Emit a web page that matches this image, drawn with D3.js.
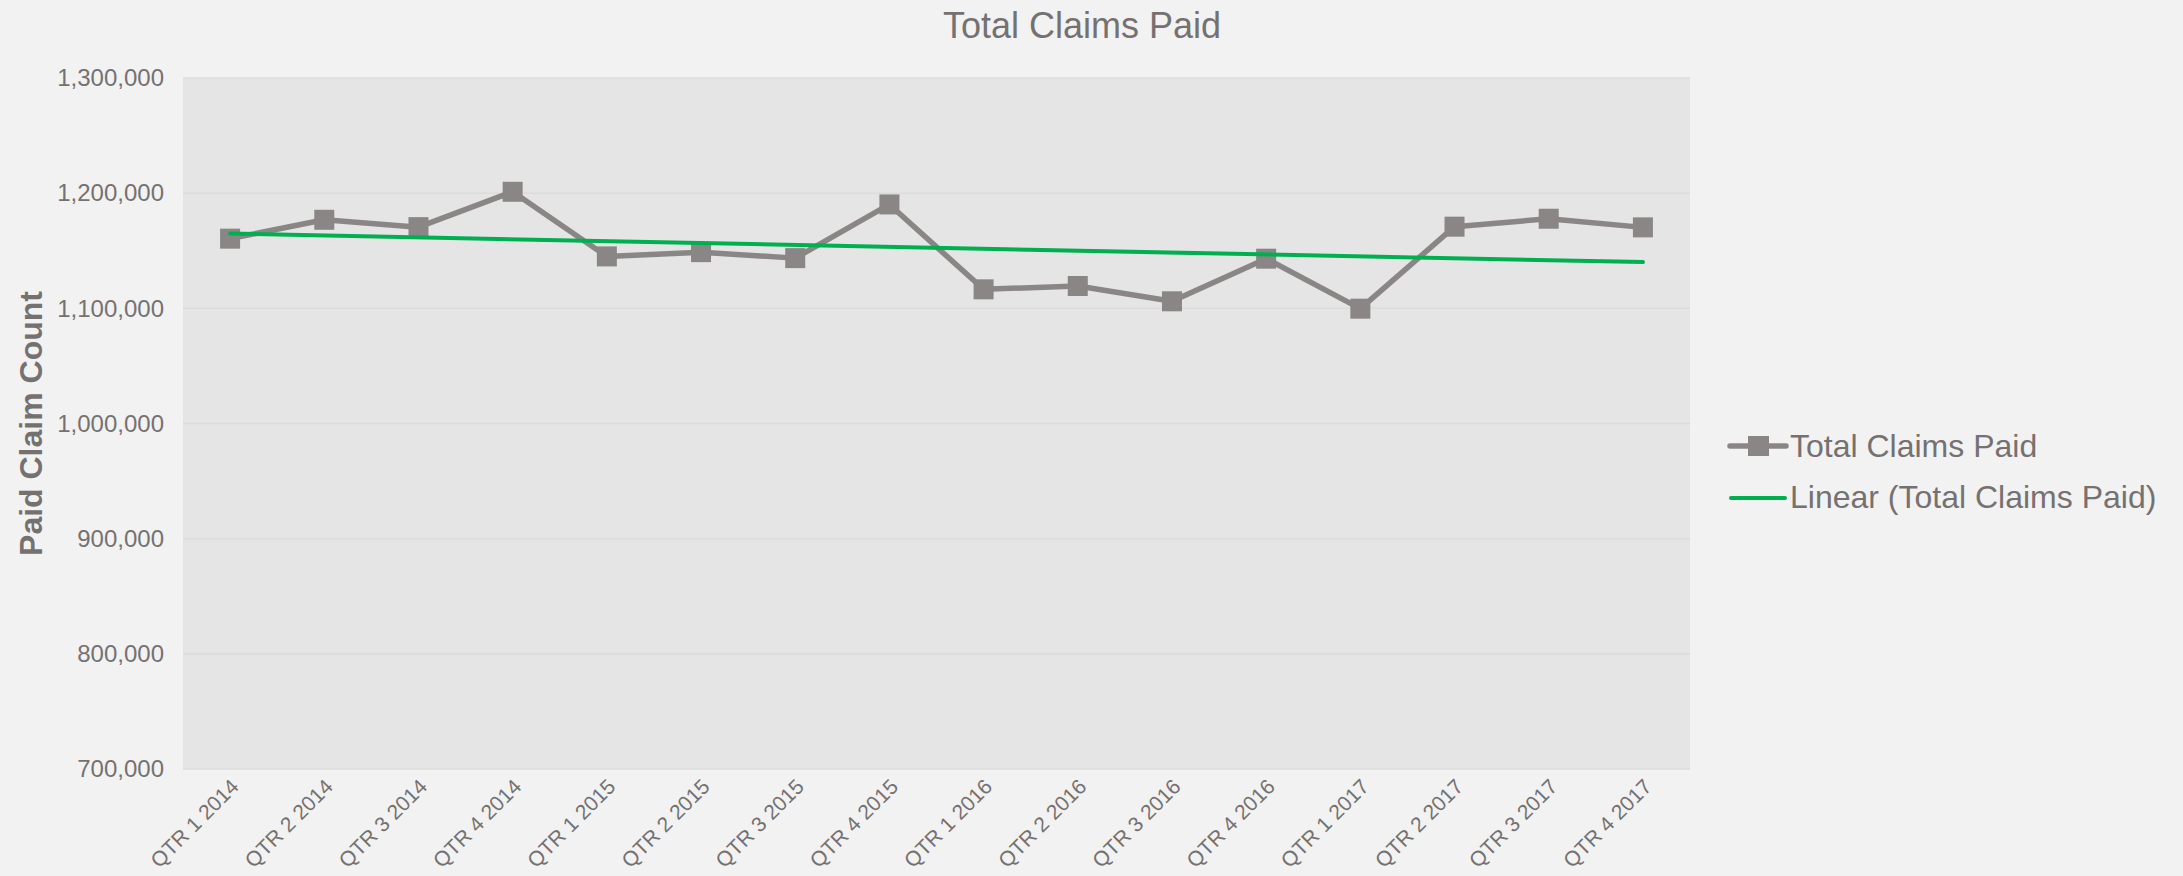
<!DOCTYPE html>
<html>
<head>
<meta charset="utf-8">
<script src="https://cdn.jsdelivr.net/npm/d3@7"></script>
<style>
  body { margin: 0; background: #f2f2f2; }
  svg { display: block; font-family: "Liberation Sans", Arial, sans-serif; }
</style>
</head>
<body>
<div id="chart"></div>
<script>
const width = 2183;
const height = 876;

const margin = { top: 78, left: 183, bottom: 107, right: 493 };

// data
const quarters = ["QTR 1 2014", "QTR 2 2014", "QTR 3 2014", "QTR 4 2014",
    "QTR 1 2015", "QTR 2 2015", "QTR 3 2015", "QTR 4 2015",
    "QTR 1 2016", "QTR 2 2016", "QTR 3 2016", "QTR 4 2016",
    "QTR 1 2017", "QTR 2 2017", "QTR 3 2017", "QTR 4 2017"];
const claimsPaid = [1160500, 1176900, 1170500, 1201200, 1145100, 1148800, 1143600, 1190200,
    1116500, 1119400, 1106100, 1143100, 1099700, 1170900, 1177800, 1170300];
const yTicks = [700000, 800000, 900000, 1000000, 1100000, 1200000, 1300000];

const seriesName = "Total Claims Paid";
const trendName = "Linear (Total Claims Paid)";

const textColor = "#767171";
const lineColor = "#8a8685";
const trendColor = "#00b050";

const data = quarters.map((q, i) => ({ q: q, v: claimsPaid[i] }));

// linear trendline (least squares on index), as Excel does it
const n = data.length;
const xMean = d3.mean(data, (d, i) => i);
const yMean = d3.mean(data, d => d.v);
const slope = d3.sum(data, (d, i) => (i - xMean) * (d.v - yMean)) / d3.sum(data, (d, i) => (i - xMean) ** 2);
const trend = data.map((d, i) => ({ q: d.q, v: yMean + slope * (i - xMean) }));

const innerW = width - margin.left - margin.right;
const innerH = height - margin.top - margin.bottom;

const xScale = d3.scaleBand()
    .domain(quarters)
    .range([0, innerW]);

const yScale = d3.scaleLinear()
    .domain([700000, 1300000])
    .range([innerH, 0]);

const svg = d3.select("#chart").append("svg").attr("width", width).attr("height", height);

svg.append("rect").attr("width", width).attr("height", height).attr("fill", "#f2f2f2");

const g = svg.append("g").attr("transform", `translate(${margin.left},${margin.top})`);

// plot area
g.append("rect")
    .attr("width", innerW)
    .attr("height", innerH)
    .attr("fill", "#e5e5e5");

// gridlines
g.append("g")
    .selectAll("line")
    .data(yTicks)
    .join("line")
    .attr("x1", 0)
    .attr("x2", innerW)
    .attr("y1", d => yScale(d))
    .attr("y2", d => yScale(d))
    .attr("stroke", "#dcdcdc")
    .attr("stroke-width", 1.5);

// y axis
const yAxis = d3.axisLeft(yScale).tickValues(yTicks).tickFormat(d3.format(",")).tickSize(0).tickPadding(19);
g.append("g")
    .attr("class", "y-axis")
    .call(yAxis)
    .call(a => a.select(".domain").remove())
    .selectAll("text")
    .attr("fill", textColor)
    .style("font-size", "24px");

// x axis
const xAxis = d3.axisBottom(xScale).tickSize(0);
g.append("g")
    .attr("class", "x-axis")
    .attr("transform", `translate(0,${innerH})`)
    .call(xAxis)
    .call(a => a.select(".domain").remove())
    .selectAll("text")
    .attr("fill", textColor)
    .style("font-size", "21px")
    .attr("text-anchor", "end")
    .attr("dy", null)
    .attr("y", 0)
    .attr("transform", "translate(10,19) rotate(-45)");

const xPos = d => xScale(d.q) + xScale.bandwidth() / 2;

// series line
const line = d3.line().x(xPos).y(d => yScale(d.v));

g.append("path")
    .datum(data)
    .attr("fill", "none")
    .attr("stroke", lineColor)
    .attr("stroke-width", 5.5)
    .attr("stroke-linejoin", "round")
    .attr("d", line);

const ms = 20;
g.append("g")
    .selectAll("rect")
    .data(data)
    .join("rect")
    .attr("x", d => xPos(d) - ms / 2)
    .attr("y", d => yScale(d.v) - ms / 2)
    .attr("width", ms)
    .attr("height", ms)
    .attr("fill", lineColor);

// trendline
g.append("path")
    .datum([trend[0], trend[n - 1]])
    .attr("fill", "none")
    .attr("stroke", trendColor)
    .attr("stroke-width", 4)
    .attr("stroke-linecap", "round")
    .attr("d", line);

// title
svg.append("text")
    .attr("x", 1082)
    .attr("y", 38)
    .attr("text-anchor", "middle")
    .attr("fill", textColor)
    .style("font-size", "36px")
    .text(seriesName);

// y axis title
svg.append("text")
    .attr("transform", `translate(42,${margin.top + innerH / 2}) rotate(-90)`)
    .attr("text-anchor", "middle")
    .attr("fill", textColor)
    .style("font-size", "32px")
    .style("font-weight", 700)
    .text("Paid Claim Count");

// legend
const legend = svg.append("g").attr("transform", "translate(1730,0)");

legend.append("line")
    .attr("x1", 0).attr("x2", 56)
    .attr("y1", 446).attr("y2", 446)
    .attr("stroke", lineColor)
    .attr("stroke-width", 5.5)
    .attr("stroke-linecap", "round");
legend.append("rect")
    .attr("x", 18).attr("y", 436)
    .attr("width", 21).attr("height", 20)
    .attr("fill", lineColor);
legend.append("text")
    .attr("x", 60).attr("y", 457)
    .attr("fill", textColor)
    .style("font-size", "32px")
    .text(seriesName);

legend.append("line")
    .attr("x1", 1).attr("x2", 55)
    .attr("y1", 498).attr("y2", 498)
    .attr("stroke", trendColor)
    .attr("stroke-width", 4)
    .attr("stroke-linecap", "round");
legend.append("text")
    .attr("x", 60).attr("y", 508)
    .attr("fill", textColor)
    .style("font-size", "32px")
    .text(trendName);
</script>
</body>
</html>
